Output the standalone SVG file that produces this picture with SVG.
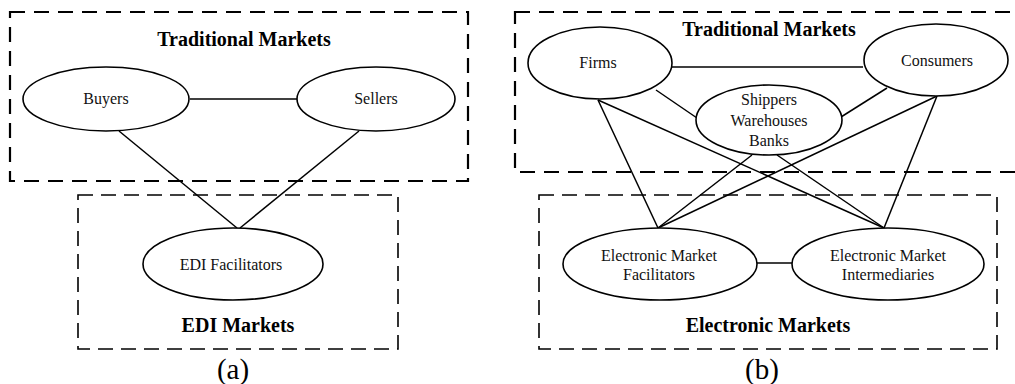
<svg xmlns="http://www.w3.org/2000/svg" width="1015" height="384" viewBox="0 0 1015 384">
<style>
.bg{fill:#fff}
.boxT{fill:none;stroke:#000;stroke-width:2.2;stroke-dasharray:15 9}
.boxB{fill:none;stroke:#000;stroke-width:1.6;stroke-dasharray:15 8}
.node{fill:#fff;stroke:#000;stroke-width:1.6}
.edge{stroke:#000;stroke-width:1.5;fill:none}
.lbl{font-family:"Liberation Serif","Times New Roman",serif;font-size:16px;fill:#111;text-anchor:middle}
.ttl{font-family:"Liberation Serif","Times New Roman",serif;font-size:20px;font-weight:bold;fill:#000;text-anchor:middle}
.cap{font-family:"Liberation Serif","Times New Roman",serif;font-size:29px;fill:#000;text-anchor:middle}
</style>
<rect class="bg" x="0" y="0" width="1015" height="384"/>
<g id="containers">
<rect id="a-traditional" class="boxT" x="10" y="12" width="458" height="169"/>
<rect id="a-edi" class="boxB" x="78" y="195" width="320" height="154"/>
<rect id="b-traditional" class="boxT" x="515" y="12" width="530" height="160"/>
<rect id="b-electronic" class="boxB" x="539" y="195" width="458" height="154"/>
<text class="ttl" x="244" y="46">Traditional Markets</text>
<text class="ttl" x="238" y="332">EDI Markets</text>
<text class="ttl" x="769" y="36">Traditional Markets</text>
<text class="ttl" x="768" y="332">Electronic Markets</text>
<text class="cap" x="233" y="379">(a)</text>
<text class="cap" x="762" y="379">(b)</text>
</g>
<g id="connectors">
<line class="edge" x1="190" y1="99" x2="297" y2="99"/>
<line class="edge" x1="119" y1="131" x2="237" y2="228"/>
<line class="edge" x1="359" y1="131" x2="240" y2="228"/>
<line class="edge" x1="672" y1="67" x2="863" y2="67"/>
<line class="edge" x1="656" y1="90" x2="697" y2="118"/>
<line class="edge" x1="887" y1="88" x2="841" y2="117"/>
<line class="edge" x1="598" y1="100" x2="658" y2="228"/>
<line class="edge" x1="598" y1="100" x2="884" y2="228"/>
<line class="edge" x1="937" y1="96" x2="658" y2="228"/>
<line class="edge" x1="937" y1="96" x2="884" y2="228"/>
<line class="edge" x1="752" y1="155" x2="658" y2="228"/>
<line class="edge" x1="777" y1="155" x2="884" y2="228"/>
<line class="edge" x1="757" y1="263" x2="792" y2="263"/>
</g>
<g id="buyers"><ellipse class="node" cx="106" cy="99" rx="83" ry="32"/><text class="lbl" x="106" y="104">Buyers</text></g>
<g id="sellers"><ellipse class="node" cx="376" cy="99" rx="79" ry="32"/><text class="lbl" x="376" y="104">Sellers</text></g>
<g id="edi-facilitators"><ellipse class="node" cx="233" cy="264" rx="90" ry="36"/><text class="lbl" x="231" y="270">EDI Facilitators</text></g>
<g id="firms"><ellipse class="node" cx="600" cy="63" rx="72" ry="36"/><text class="lbl" x="598" y="68">Firms</text></g>
<g id="consumers"><ellipse class="node" cx="936" cy="60" rx="72" ry="36"/><text class="lbl" x="937" y="66">Consumers</text></g>
<g id="shippers"><ellipse class="node" cx="769" cy="120" rx="73" ry="35"/><text class="lbl" x="769" y="105">Shippers</text><text class="lbl" x="769" y="126">Warehouses</text><text class="lbl" x="769" y="146">Banks</text></g>
<g id="em-facilitators"><ellipse class="node" cx="660" cy="264" rx="97" ry="36"/><text class="lbl" x="659" y="261">Electronic Market</text><text class="lbl" x="659" y="280">Facilitators</text></g>
<g id="em-intermediaries"><ellipse class="node" cx="888" cy="264" rx="96" ry="36"/><text class="lbl" x="888" y="261">Electronic Market</text><text class="lbl" x="888" y="280">Intermediaries</text></g>
</svg>
